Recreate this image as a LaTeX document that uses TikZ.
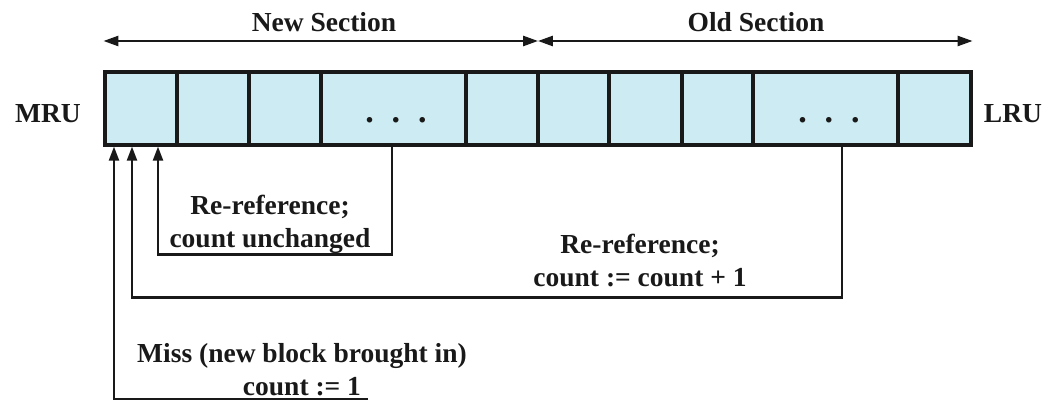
\documentclass[tikz,border=0pt]{standalone}
\usepackage{fontspec}
\setmainfont{Liberation Serif}
\usetikzlibrary{arrows.meta,calc}
\definecolor{cellfill}{RGB}{204,235,242}
\definecolor{ink}{RGB}{25,25,25}
\begin{document}
\begin{tikzpicture}[x=1pt,y=-1pt,
  lbl/.style={font=\fontsize{27.5}{33}\selectfont\bfseries, inner sep=0pt, align=center, text=ink},
  cell/.style={draw=ink, line width=3.2pt, fill=cellfill, inner sep=0pt, minimum height=73pt},
  span/.style={draw=ink, line width=2.4pt, {Triangle[length=15pt,width=10pt]}-{Triangle[length=15pt,width=10pt]}},
  feed/.style={draw=ink, line width=2.2pt, -{Triangle[length=14pt,width=10pt]}},
]
\useasboundingbox (0,0) rectangle (1044,403);

% the buffer: ten slots from MRU (left) to LRU (right)
\foreach \n/\a/\b in {1/105/177, 2/177/249, 3/249/321, 4/321/466, 5/466/538,
                      6/538/609, 7/609/682, 8/682/753, 9/753/898, 10/898/971}
  \node[cell, minimum width={\b-\a}] (c\n) at ({(\a+\b)/2},108.5) {};

\node[lbl, anchor=base] (d4) at (396,123) {\fontsize{34}{34}\selectfont.\kern18pt.\kern18pt.};
\node[lbl, anchor=base] (d9) at (829,123) {\fontsize{34}{34}\selectfont.\kern18pt.\kern18pt.};

\node[lbl, anchor=base] (mru) at (48,123) {MRU};
\node[lbl, anchor=base] (lru) at (1013,123) {LRU};

% section extents
\node[lbl, anchor=base] (newlbl) at (324,32) {New Section};
\node[lbl, anchor=base] (oldlbl) at (756,32) {Old Section};
\draw[span] (c1.north west |- 0,41) -- ($(c5.north east |- 0,41)+(-1.5,0)$);
\draw[span] ($(c6.north west |- 0,41)+(1.5,0)$) -- (c10.north east |- 0,41);

% re-reference paths back to the MRU slot
\draw[feed] ($(c4.south)+(-1.5,0)$) -- ++(0,108) -| ($(c1.south)+(17,0)$);
\draw[feed] ($(c9.south)+(16.5,0)$) -- ++(0,151) -| ($(c1.south)+(-9,0)$);
\coordinate (missend) at (368,399);
\draw[feed] (missend) -| ($(c1.south)+(-27,0)$);

% labels (anchored at the baseline of their last line)
\node[lbl, anchor=base] (lblin) at (270,248) {Re-reference;\\count unchanged};
\node[lbl, anchor=base] (lblold) at (640,287) {Re-reference;\\count := count + 1};
\node[lbl, anchor=base] (lblmiss) at (302,395) {Miss (new block brought in)\\count := 1};
\end{tikzpicture}
\end{document}
